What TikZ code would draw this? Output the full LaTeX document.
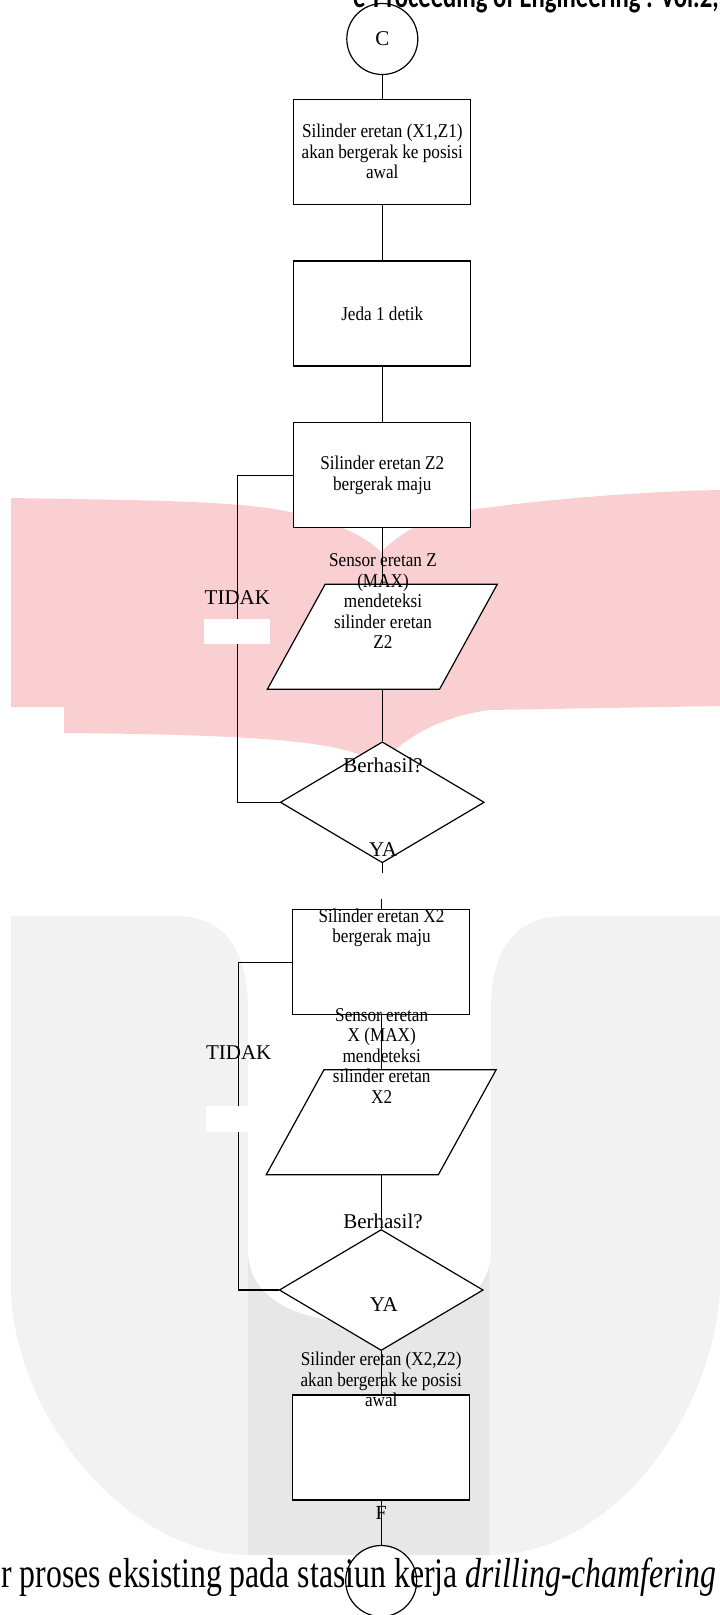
\documentclass[tikz,border=0pt]{standalone}
\usepackage{fontspec}
\setmainfont{Liberation Serif}
\newfontfamily\kotakfont{Liberation Serif}[FakeStretch=0.88]
\newfontfamily\judulfont{Liberation Serif}[FakeStretch=0.757]
\newfontfamily\kepalafont{Carlito}[FakeStretch=0.757]
\usetikzlibrary{shapes.geometric}

\definecolor{merahmuda}{RGB}{250,207,210}
\definecolor{abumuda}{RGB}{242,242,242}
\definecolor{abutua}{RGB}{231,231,231}

\begin{document}
\begin{tikzpicture}[x=1pt,y=-1pt,
    garis/.style={line width=1.2pt},
    kotak/.style={draw,line width=1.2pt,fill=white,minimum width=177pt,minimum height=105pt,
        inner sep=0pt,align=center,font=\kotakfont\fontsize{19.5}{20.5}\selectfont},
    jajar/.style={trapezium,trapezium left angle=63.2,trapezium right angle=116.8,trapezium stretches,
        draw,line width=1.2pt,fill=white,minimum width=230pt,minimum height=105pt,inner sep=2pt},
    belah/.style={diamond,draw,line width=1.2pt,fill=white,minimum width=204pt,minimum height=121pt,inner sep=0pt},
    lingkar/.style={circle,draw,line width=1.2pt,fill=white,minimum size=71pt,inner sep=0pt,
        font=\fontsize{21}{24}\selectfont},
    isi/.style={inner sep=0pt,align=center,font=\kotakfont\fontsize{19.5}{20.5}\selectfont},
    ket/.style={inner sep=0pt,font=\fontsize{21}{24}\selectfont},
    kosong/.style={fill=white,inner sep=0pt}]
    \useasboundingbox (0,0) rectangle (720,1615);

    \fill[merahmuda] (11,498) .. controls (120,500) and (240,500) .. (290,512)
        .. controls (340,522) and (370,540) .. (381,552)
        .. controls (395,538) and (420,518) .. (470,510)
        .. controls (560,497) and (660,491) .. (720,490) -- (720,706) -- (490,710)
        .. controls (440,716) and (400,740) .. (381,765)
        .. controls (350,745) and (300,735) .. (64,733) -- (64,707) -- (11,707) -- cycle;
    \fill[abumuda] (11,916) -- (175,916) .. controls (225,916) and (248,950) .. (248,1010)
        -- (248,1250) -- (491,1250) -- (491,1010)
        .. controls (491,950) and (515,916) .. (565,916) -- (720,916) -- (720,1290)
        .. controls (712,1420) and (610,1555) .. (489,1555) -- (248,1555)
        .. controls (130,1555) and (15,1420) .. (11,1290) -- cycle;
    \fill[abutua] (248,1240) rectangle (489,1555);
    \fill[white] (248,900) -- (248,1250) .. controls (248,1300) and (300,1323) .. (370,1323)
        .. controls (440,1323) and (491,1300) .. (491,1250) -- (491,900) -- cycle;

    \node[lingkar] (mulai) at (382.3,39) {C};
    \node[kotak] (awalXZ1) at (382.3,151.8) {Silinder eretan (X1,Z1)\\akan bergerak ke posisi\\awal};
    \node[kotak] (jeda) at (382.3,313.5) {Jeda 1 detik};
    \node[kotak] (majuZ) at (382.3,475.2) {Silinder eretan Z2\\bergerak maju};
    \node[jajar] (sensorZ) at (382.3,636.8) {};
    \node[belah] (cekZ) at (382.3,802.3) {};
    \coordinate (putusA) at (382.3,872.7);
    \coordinate (putusB) at (381.2,899);
    \node[kotak] (majuX) at (381.2,962.2) {};
    \node[jajar] (sensorX) at (381.2,1122.2) {};
    \node[belah] (cekX) at (381.2,1290) {};
    \node[kotak] (awalXZ2) at (381.2,1447.5) {};
    \node[lingkar] (akhir) at (381.2,1581) {};

    \node[ket] (tidakZ) at (237.4,598) {TIDAK};
    \node[ket] (tidakX) at (238.7,1053) {TIDAK};

    \draw[garis] (mulai) -- (awalXZ1);
    \draw[garis] (awalXZ1) -- (jeda);
    \draw[garis] (jeda) -- (majuZ);
    \draw[garis] (majuZ) -- (sensorZ);
    \draw[garis] (sensorZ) -- (cekZ);
    \draw[garis] (cekZ.south) -- (putusA);
    \draw[garis] (putusB) -- (majuX.north);
    \draw[garis] (majuX) -- (sensorX);
    \draw[garis] (sensorX) -- (cekX);
    \draw[garis] (cekX) -- (awalXZ2);
    \draw[garis] (awalXZ2) -- (akhir);
    \draw[garis] (cekZ.west) -| (tidakZ.center) |- (majuZ.west);
    \draw[garis] (cekX.west) -| (tidakX.center) |- (majuX.west);

    \node[kosong,minimum width=66pt,minimum height=25pt] (kosongZ) at (237,631.5) {};
    \node[kosong,minimum width=64pt,minimum height=26pt] (kosongX) at (238,1119) {};

    \node[isi] (teksSensorZ) at (383,601.5) {Sensor eretan Z\\(MAX)\\mendeteksi\\silinder eretan\\Z2};
    \node[isi] (teksMajuX) at (381.5,928) {Silinder eretan X2\\bergerak maju};
    \node[isi] (teksSensorX) at (381.7,1056) {Sensor eretan\\X (MAX)\\mendeteksi\\silinder eretan\\X2};
    \node[isi] (teksAwalXZ2) at (381.2,1379.5) {Silinder eretan (X2,Z2)\\akan bergerak ke posisi\\awal};

    \node[ket] (berhasilZ) at (383,765.5) {Berhasil?};
    \node[ket] (yaZ) at (383,850) {YA};
    \node[ket] (berhasilX) at (383,1221) {Berhasil?};
    \node[ket] (yaX) at (383.8,1305) {YA};
    \node[ket,font=\fontsize{20}{24}\selectfont] (ujungF) at (381.2,1513) {F};

    \node[anchor=base west,inner sep=0pt,font=\judulfont\fontsize{42}{44}\selectfont] (judul) at (1,1587)
        {r proses eksisting pada stasiun kerja \textit{drilling-chamfering}};
    \node[anchor=base west,inner sep=0pt,font=\kepalafont\bfseries\fontsize{32.6}{34}\selectfont] (kepala) at (353,7.5)
        {e-Proceeding of Engineering : Vol.2,};
\end{tikzpicture}
\end{document}
